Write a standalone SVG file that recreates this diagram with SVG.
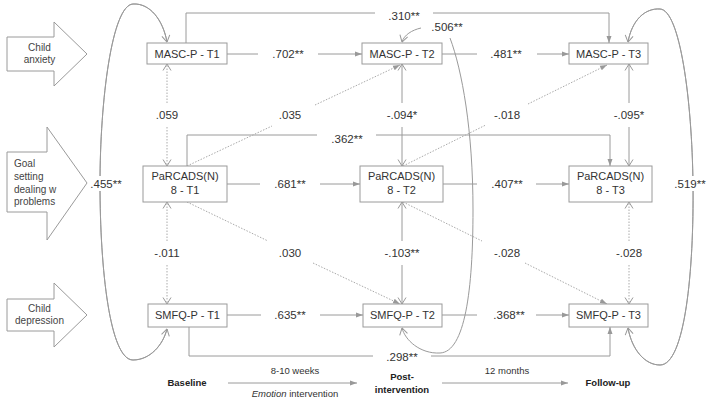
<svg xmlns="http://www.w3.org/2000/svg" width="707" height="400" viewBox="0 0 707 400">
<defs>
<style>
.bx{fill:#fff;stroke:#9a9a9a;stroke-width:1}
.bg{fill:#fff;stroke:#9a9a9a;stroke-width:1}
.nt{font-family:"Liberation Sans",Arial,sans-serif;font-size:11px;fill:#333;text-anchor:middle}
.at{font-family:"Liberation Sans",Arial,sans-serif;font-size:10px;fill:#444;text-anchor:middle}
.gl{font-family:"Liberation Sans",Arial,sans-serif;font-size:10px;fill:#444}
.lb{font-family:"Liberation Sans",Arial,sans-serif;font-size:11.5px;fill:#333;text-anchor:middle}
.tl{font-family:"Liberation Sans",Arial,sans-serif;font-size:9.5px;fill:#333;text-anchor:middle}
.tb{font-family:"Liberation Sans",Arial,sans-serif;font-size:9.5px;fill:#222;font-weight:bold;text-anchor:middle}
.ln{fill:none;stroke:#9a9a9a;stroke-width:1}
.dt{fill:none;stroke:#aaa;stroke-width:1;stroke-dasharray:1.5 1.5}
</style>
<marker id="ah" markerUnits="userSpaceOnUse" markerWidth="7" markerHeight="6" viewBox="0 0 7 6" refX="7" refY="3" orient="auto"><path d="M0,0.5 L7,3 L0,5.5z" fill="#999"/></marker>
<marker id="vh" markerUnits="userSpaceOnUse" markerWidth="8" markerHeight="10" viewBox="0 0 8 10" refX="7.5" refY="5" orient="auto"><path d="M1,1 L7.5,5 L1,9" fill="none" stroke="#999" stroke-width="1"/></marker>
</defs>
<rect width="707" height="400" fill="#fff"/>

<g id="big-arrows">
<g id="arrow-anxiety">
<polygon class="bg" points="7,37 54,37 54,22 87,54 54,86 54,71 7,71"/>
<text class="at" x="39.5" y="51">Child</text>
<text class="at" x="39.5" y="63">anxiety</text>
</g>
<g id="arrow-goal">
<polygon class="bg" points="7,152 47,152 47,127 87,183 47,240 47,212 7,212"/>
<text class="gl" x="14" y="167">Goal</text>
<text class="gl" x="14" y="180">setting</text>
<text class="gl" x="14" y="192.5">dealing w</text>
<text class="gl" x="14" y="205">problems</text>
</g>
<g id="arrow-depression">
<polygon class="bg" points="7,299 54,299 54,283 87,315 54,347 54,331 7,331"/>
<text class="at" x="39.5" y="312">Child</text>
<text class="at" x="39.5" y="324">depression</text>
</g>
</g>

<g id="connectors">
<path class="ln" d="M227,54 H258"/><path class="ln" d="M318,54 H362" marker-end="url(#ah)"/>
<path class="ln" d="M442,54 H477"/><path class="ln" d="M537,54 H569" marker-end="url(#ah)"/>
<path class="ln" d="M227,184 H260"/><path class="ln" d="M320,184 H360" marker-end="url(#ah)"/>
<path class="ln" d="M443,184 H477"/><path class="ln" d="M536,184 H569" marker-end="url(#ah)"/>
<path class="ln" d="M227,315 H261"/><path class="ln" d="M320,315 H363" marker-end="url(#ah)"/>
<path class="ln" d="M442,315 H477"/><path class="ln" d="M536,315 H569" marker-end="url(#ah)"/>
<path class="ln" d="M186,43 V13 H375"/><path class="ln" d="M433,13 H609 V43" marker-end="url(#ah)"/>
<path class="ln" d="M187,166 V135 H317"/><path class="ln" d="M376,135 H610 V166" marker-end="url(#ah)"/>
<path class="ln" d="M189,327 V356 H373"/><path class="ln" d="M431,356 H610 V327" marker-end="url(#ah)"/>
<path class="dt" d="M167,103 V64" marker-end="url(#vh)"/><path class="dt" d="M167,127 V166" marker-end="url(#vh)"/>
<path class="dt" d="M167,241 V202" marker-end="url(#vh)"/><path class="dt" d="M167,265 V304" marker-end="url(#vh)"/>
<path class="ln" d="M402,103 V64" marker-end="url(#vh)"/><path class="ln" d="M402,127 V166" marker-end="url(#vh)"/>
<path class="ln" d="M402,241 V202" marker-end="url(#vh)"/><path class="ln" d="M402,265 V304" marker-end="url(#vh)"/>
<path class="ln" d="M629,103 V64" marker-end="url(#vh)"/><path class="ln" d="M629,127 V166" marker-end="url(#vh)"/>
<path class="dt" d="M629,241 V202" marker-end="url(#vh)"/><path class="dt" d="M629,265 V304" marker-end="url(#vh)"/>
<path class="dt" d="M187,166 L272,126"/><path class="dt" d="M315,105 L400,65" marker-end="url(#ah)"/>
<path class="dt" d="M403,166 L485,125.4"/><path class="dt" d="M528,104 L607,65" marker-end="url(#ah)"/>
<path class="dt" d="M187,202 L268,241"/><path class="dt" d="M313,263 L400,304" marker-end="url(#ah)"/>
<path class="dt" d="M403,202 L482,241"/><path class="dt" d="M525,263 L607,304" marker-end="url(#ah)"/>
<path class="ln" d="M167,329 C163,345 150,360 133,360 C110,360 100,270 100,184 C100,100 112,5 133,4 C150,3 163,20 167,42" marker-end="url(#vh)"/>
<path class="ln" d="M167,42 C163,20 150,3 133,4 C112,5 100,100 100,184 C100,270 110,360 133,360 C150,360 163,345 167,329" marker-end="url(#vh)"/>
<path class="ln" d="M421,28 C412,30 404,35 402,42" marker-end="url(#vh)"/>
<path class="ln" d="M450,38 C462,70 473,130 473,210 C473,290 465,352 440,353 C420,354 405,340 402,328" marker-end="url(#vh)"/>
<path class="ln" d="M628,328 C632,350 645,365 660,365 C685,365 694,270 693,184 C692,100 680,10 660,9 C645,8 632,20 628,42" marker-end="url(#vh)"/>
<path class="ln" d="M628,42 C632,20 645,8 660,9 C680,10 692,100 693,184 C694,270 685,365 660,365 C645,365 632,350 628,328" marker-end="url(#vh)"/>
<rect x="89" y="176" width="35" height="15" fill="#fff"/>
<rect x="672" y="176" width="35" height="15" fill="#fff"/>
<path class="ln" d="M228,383 H357" marker-end="url(#ah)"/>
<path class="ln" d="M442,383 H568" marker-end="url(#ah)"/>
</g>

<g id="labels">
<text class="lb" x="288" y="58">.702**</text>
<text class="lb" x="506" y="58">.481**</text>
<text class="lb" x="290" y="188">.681**</text>
<text class="lb" x="507" y="188">.407**</text>
<text class="lb" x="290" y="319">.635**</text>
<text class="lb" x="509" y="319">.368**</text>
<text class="lb" x="404" y="20">.310**</text>
<text class="lb" x="347" y="143">.362**</text>
<text class="lb" x="402" y="361">.298**</text>
<text class="lb" x="167" y="119">.059</text>
<text class="lb" x="167" y="257">-.011</text>
<text class="lb" x="402" y="119">-.094*</text>
<text class="lb" x="402" y="257">-.103**</text>
<text class="lb" x="629" y="119">-.095*</text>
<text class="lb" x="629" y="257">-.028</text>
<text class="lb" x="290" y="119">.035</text>
<text class="lb" x="507" y="119">-.018</text>
<text class="lb" x="290" y="257">.030</text>
<text class="lb" x="507" y="257">-.028</text>
<text class="lb" x="106" y="188">.455**</text>
<text class="lb" x="447" y="31">.506**</text>
<text class="lb" x="690" y="188">.519**</text>
</g>

<g id="masc-t1"><rect class="bx" x="147" y="43" width="80" height="21"/><text class="nt" x="187" y="58">MASC-P - T1</text></g>
<g id="masc-t2"><rect class="bx" x="362" y="43" width="80" height="21"/><text class="nt" x="402" y="58">MASC-P - T2</text></g>
<g id="masc-t3"><rect class="bx" x="569" y="43" width="79" height="21"/><text class="nt" x="608.5" y="58">MASC-P - T3</text></g>
<g id="parcads-t1"><rect class="bx" x="143" y="166" width="84" height="36"/><text class="nt" x="185" y="180">PaRCADS(N)</text><text class="nt" x="185" y="194">8 - T1</text></g>
<g id="parcads-t2"><rect class="bx" x="360" y="166" width="83" height="36"/><text class="nt" x="401.5" y="180">PaRCADS(N)</text><text class="nt" x="401.5" y="194">8 - T2</text></g>
<g id="parcads-t3"><rect class="bx" x="569" y="166" width="83" height="36"/><text class="nt" x="610.5" y="180">PaRCADS(N)</text><text class="nt" x="610.5" y="194">8 - T3</text></g>
<g id="smfq-t1"><rect class="bx" x="148" y="304" width="79" height="23"/><text class="nt" x="187.5" y="319">SMFQ-P - T1</text></g>
<g id="smfq-t2"><rect class="bx" x="363" y="304" width="79" height="23"/><text class="nt" x="402.5" y="319">SMFQ-P - T2</text></g>
<g id="smfq-t3"><rect class="bx" x="569" y="304" width="79" height="23"/><text class="nt" x="608.5" y="319">SMFQ-P - T3</text></g>

<g id="timeline">
<text class="tb" x="187" y="386">Baseline</text>
<text class="tl" x="295" y="374">8-10 weeks</text>
<text class="tl" x="295" y="397"><tspan font-style="italic">Emotion</tspan> intervention</text>
<text class="tb" x="402" y="380">Post-</text>
<text class="tb" x="402" y="393">intervention</text>
<text class="tl" x="507" y="374">12 months</text>
<text class="tb" x="608" y="386">Follow-up</text>
</g>
</svg>
